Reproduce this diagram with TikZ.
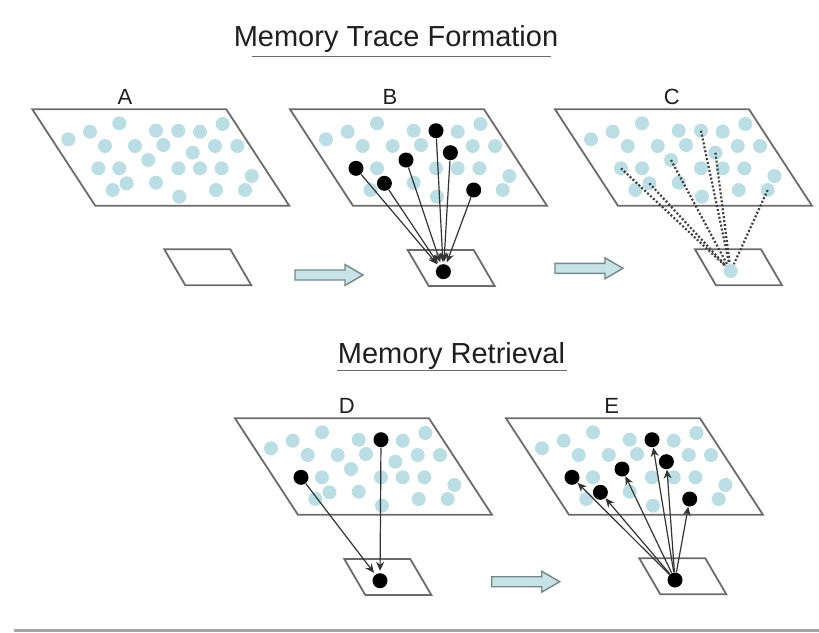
\documentclass[tikz,border=0pt]{standalone}
\usepackage{fontspec}
\setmainfont{Liberation Sans}
\usetikzlibrary{arrows.meta}

\newlength{\du}
\setlength{\du}{0.5pt}

\definecolor{framegray}{rgb}{0.420000, 0.420000, 0.420000}
\definecolor{dotblue}{rgb}{0.730000, 0.870000, 0.890000}
\definecolor{arrowfill}{rgb}{0.780000, 0.890000, 0.910000}
\definecolor{arrowedge}{rgb}{0.450000, 0.530000, 0.550000}
\definecolor{ink}{rgb}{0.120000, 0.120000, 0.120000}

\tikzset{
  panel/.style={draw=framegray, line width=1.8\du, line join=miter},
  bluedot/.style={circle, fill=dotblue, minimum size=14\du, inner sep=0pt},
  blackdot/.style={circle, fill=black, minimum size=15\du, inner sep=0pt},
  % tip sizes in pt, about 9 and 8 du
  link/.style={draw=black!80, line width=1.2\du, -{Stealth[length=4.5pt,width=4pt]}},
  trace/.style={draw=black!75, line width=2.2\du, dash pattern=on 2\du off 2\du},
  blockarrow/.style={fill=arrowfill, draw=arrowedge, line width=1.4\du, line join=miter},
  heading/.style={font=\fontsize{14.5}{17}\selectfont, text=ink, inner sep=0pt, anchor=base},
  paneltag/.style={font=\fontsize{11}{13}\selectfont, text=ink, inner sep=0pt, anchor=base},
  rule/.style={draw=framegray, line width=1.4\du}
}

\begin{document}
\begin{tikzpicture}
\pgftransformxscale{1.000000}
\pgftransformyscale{-1.000000}
\useasboundingbox (0\du,0\du) rectangle (819\du,632\du);

% headings
\node[heading] (trace) at (396\du,46\du) {Memory Trace Formation};
\coordinate (traceL) at (251.7\du,56.7\du);
\coordinate (traceR) at (550.7\du,56.7\du);
\draw[rule] (traceL) -- (traceR);
\node[heading] (retrieval) at (451.5\du,363.3\du) {Memory Retrieval};
\coordinate (retrievalL) at (336.7\du,370.7\du);
\coordinate (retrievalR) at (566.7\du,370.7\du);
\draw[rule] (retrievalL) -- (retrievalR);

% big sheets with the same scatter of cells
\foreach \p/\px/\py in {A/32.3/109.3, B/290/109.3, C/555/109.3, D/235/418.3, E/506/418.3}{
  \begin{scope}[shift={(\px\du,\py\du)}]
    \draw[panel] (0\du,0\du)--(194\du,0\du)--(257\du,96.5\du)--(63\du,96.5\du)--cycle;
    \foreach \x/\y [count=\i] in {36/30, 57.7/22.4, 87/14, 123.7/21.4, 146/21.4, 167.7/22.4,
        190.4/14.7, 72.7/36.7, 102.7/36.7, 131/35.7, 160.4/43.4, 182.7/36.7, 205/36.7,
        116/50.7, 66/59, 87/59, 146/59, 167.7/59, 189.4/59, 219.4/66.7, 94.4/74,
        80.4/80.7, 123.7/73.4, 147/87.4, 183.7/80.7, 212.7/80.7}
      \node[bluedot] (\p\i) at (\x\du,\y\du) {};
  \end{scope}
}

% small sheets
\foreach \p/\px/\py in {A/164.3/249.3, B/407.7/250, C/695/249.3, D/344.3/559, E/639.3/558.3}{
  \begin{scope}[shift={(\px\du,\py\du)}]
    \draw[panel] (0\du,0\du)--(66\du,0\du)--(87\du,36\du)--(21\du,36\du)--cycle;
    \coordinate (s\p) at (35.7\du,21.7\du);
  \end{scope}
}

% panel letters
\node[paneltag] (labA) at (125\du,104\du) {A};
\node[paneltag] (labB) at (390\du,104\du) {B};
\node[paneltag] (labC) at (671.7\du,104\du) {C};
\node[paneltag] (labD) at (346.7\du,413.3\du) {D};
\node[paneltag] (labE) at (611.7\du,413.3\du) {E};

% B: active cells project onto the small sheet
\node[blackdot] (tB) at (sB) {};
\foreach \i in {15,21,14,5,11,25}{
  \node[blackdot] (Bk\i) at (B\i) {};
  \draw[link, shorten >=1pt] (Bk\i) -- (tB);
}

% C: the trace that stays behind
\node[bluedot] (tC) at (sC) {};
\foreach \i in {15,21,14,5,11,26}
  \draw[trace] (C\i.center) -- (tC);

% D: partial cue
\node[blackdot] (tD) at (sD) {};
\foreach \i in {15,5}{
  \node[blackdot] (Dk\i) at (D\i) {};
  \draw[link, shorten >=1pt] (Dk\i) -- (tD);
}

% E: whole pattern brought back
\node[blackdot] (tE) at (sE) {};
\foreach \i in {15,21,14,5,11,25}{
  \node[blackdot] (Ek\i) at (E\i) {};
  \draw[link] (tE) -- (Ek\i);
}

% block arrows between the stages
\foreach \ax/\ay in {295/270, 555/263.3, 491.7/576.7}
  \draw[blockarrow] (\ax\du,\ay\du) -- ++(50\du,0\du) -- ++(0\du,-5.5\du) -- ++(18\du,10.5\du)
    -- ++(-18\du,10.5\du) -- ++(0\du,-5.5\du) -- ++(-50\du,0\du) -- cycle;

% bottom edge
\coordinate (edgeL) at (14\du,630.5\du);
\coordinate (edgeR) at (819\du,630.5\du);
\draw[draw=black!35, line width=2.5\du] (edgeL) -- (edgeR);
\end{tikzpicture}
\end{document}
